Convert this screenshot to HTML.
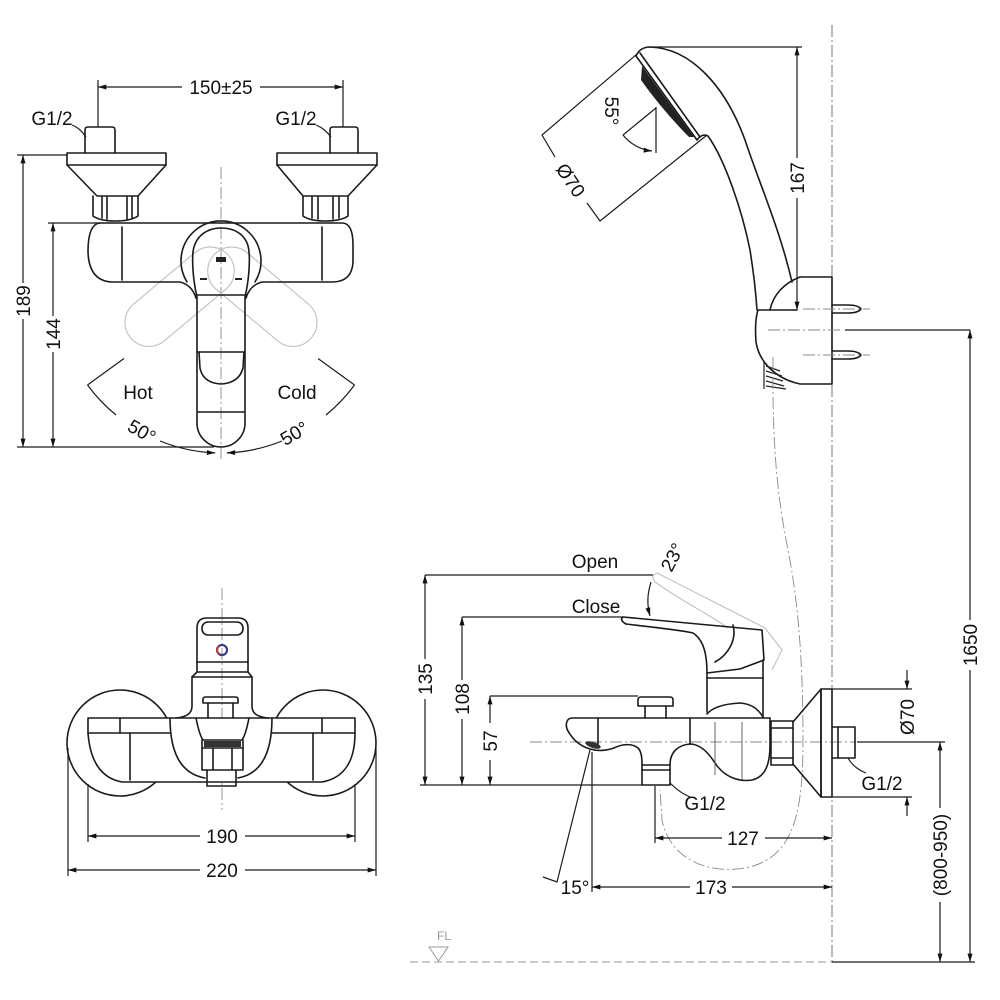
<!DOCTYPE html>
<html><head><meta charset="utf-8">
<style>
html,body{margin:0;padding:0;background:#fff;}
svg{display:block;}
text{font-family:"Liberation Sans",Arial,sans-serif;fill:#111;font-size:19px;}
.o{stroke:#1a1a1a;stroke-width:1.6;fill:none;stroke-linejoin:round;stroke-linecap:round;}
.d{stroke:#1a1a1a;stroke-width:1.2;fill:none;}
.c{stroke:#8a8a8a;stroke-width:0.9;fill:none;stroke-dasharray:12 3 2 3;}
.g{stroke:#c4c4c4;stroke-width:1.2;fill:none;}
.t{stroke:#555;stroke-width:0.9;fill:none;}
</style></head><body>
<svg width="1000" height="1000" viewBox="0 0 1000 1000" xmlns="http://www.w3.org/2000/svg">
<defs>
<marker id="ar" viewBox="0 0 10 6" refX="10" refY="3" markerWidth="9" markerHeight="5" orient="auto-start-reverse" markerUnits="userSpaceOnUse"><path d="M0,0 L10,3 L0,6 Z" fill="#111"/></marker>
</defs>
<rect width="1000" height="1000" fill="#fff"/>

<!-- ================= VIEW 1 : top-left front ================= -->
<g class="c">
<line x1="221" y1="167" x2="221" y2="462"/>
</g>
<g class="g">
<rect x="-24" y="-10" width="48" height="128" rx="24" transform="translate(221,262) rotate(50)"/>
<rect x="-24" y="-10" width="48" height="128" rx="24" transform="translate(221,262) rotate(-50)"/>
</g>
<g class="o">
<path d="M85,153 L85,130 Q85,127 88,127 L112,127 Q115,127 115,130 L115,153"/>
<path d="M67,153 L166,153 L166,165 L138,196 L97,196 L67,165 Z"/>
<line x1="67" y1="165" x2="166" y2="165"/>
<path d="M93,196 L93,216 Q100,221 115,221 Q131,221 138,216 L138,196"/>
<line x1="102" y1="197" x2="102" y2="218"/><line x1="107" y1="197" x2="107" y2="219"/>
<line x1="127" y1="197" x2="127" y2="219"/><line x1="132" y1="197" x2="132" y2="218"/>
<path d="M330,153 L330,130 Q330,127 333,127 L355,127 Q358,127 358,130 L358,153"/>
<path d="M277,153 L377,153 L377,165 L348,196 L303,196 L277,165 Z"/>
<line x1="277" y1="165" x2="377" y2="165"/>
<path d="M303,196 L303,216 Q310,221 325,221 Q341,221 348,216 L348,196"/>
<line x1="312" y1="197" x2="312" y2="218"/><line x1="318" y1="197" x2="318" y2="219"/>
<line x1="333" y1="197" x2="333" y2="219"/><line x1="339" y1="197" x2="339" y2="218"/>
<path d="M100,223 L343,223 Q353,224 353,245 L353,262 Q352,282 332,282 L262,282 Q250,285 246,298"/>
<path d="M196,298 Q192,285 180,282 L112,282 Q89,281 88,252 Q88,224 100,223"/>
<line x1="122" y1="227" x2="122" y2="280"/>
<line x1="322" y1="227" x2="322" y2="280"/>
<path d="M187,282 A40,40 0 1 1 255,282"/>
<path d="M197,297 C193,280 192,262 193,252 C195,236 207,228 221,228 C236,228 248,236 249,252 C250,262 249,280 245,297 L245,423 A24,24 0 0 1 197,423 Z"/>
<line x1="197" y1="295" x2="245" y2="295"/>
<line x1="198" y1="352" x2="244" y2="352"/>
<line x1="198" y1="412" x2="244" y2="412"/>
<path d="M199,352 L200,368 Q203,383 221,384 Q239,383 243,368 L244,352"/>
</g>
<rect x="216" y="257" width="10" height="5" fill="#222"/>
<line x1="200" y1="279" x2="207" y2="279" stroke="#222" stroke-width="2"/>
<line x1="235" y1="279" x2="242" y2="279" stroke="#222" stroke-width="2"/>
<g class="d">
<line x1="98" y1="87" x2="182" y2="87" marker-start="url(#ar)"/>
<line x1="260" y1="87" x2="343" y2="87" marker-end="url(#ar)"/>
<line x1="98" y1="80" x2="98" y2="127"/>
<line x1="343" y1="80" x2="343" y2="127"/>
<path d="M72,125 Q80,128 86,137"/>
<path d="M316,125 Q324,128 331,137"/>
<line x1="17" y1="155" x2="67" y2="155"/>
<line x1="23" y1="155" x2="23" y2="283" marker-start="url(#ar)"/>
<line x1="23" y1="319" x2="23" y2="447" marker-end="url(#ar)"/>
<line x1="48" y1="223" x2="100" y2="223"/>
<line x1="53" y1="223" x2="53" y2="316" marker-start="url(#ar)"/>
<line x1="53" y1="352" x2="53" y2="447" marker-end="url(#ar)"/>
<line x1="17" y1="447" x2="214" y2="447"/>
<line x1="87.5" y1="385" x2="124" y2="358.5"/>
<line x1="354.5" y1="385" x2="318" y2="358.5"/>
<path d="M87.5,385 A165,165 0 0 0 116,415"/>
<path d="M160,441 A165,165 0 0 0 215.2,452.9" marker-end="url(#ar)"/>
<path d="M354.5,385 A165,165 0 0 1 326,415"/>
<path d="M282,441 A165,165 0 0 1 226.8,452.9" marker-end="url(#ar)"/>
</g>
<text x="221" y="94" text-anchor="middle">150±25</text>
<text x="52" y="125" text-anchor="middle">G1/2</text>
<text x="296" y="125" text-anchor="middle">G1/2</text>
<text transform="translate(23,301) rotate(-90)" y="7" text-anchor="middle">189</text>
<text transform="translate(53,334) rotate(-90)" y="7" text-anchor="middle">144</text>
<text x="138" y="399" text-anchor="middle">Hot</text>
<text x="297" y="399" text-anchor="middle">Cold</text>
<text transform="translate(142,431) rotate(30)" y="7" text-anchor="middle">50°</text>
<text transform="translate(294,433) rotate(-30)" y="7" text-anchor="middle">50°</text>

<!-- ================= VIEW 2 : bottom-left front ================= -->
<g class="c"><line x1="222" y1="588" x2="222" y2="810"/></g>
<g class="o">
<circle cx="120" cy="743" r="53"/>
<circle cx="323" cy="743" r="53"/>
<path d="M88,718 L355,718 L355,733 C355,760 345,778 322,782 L122,782 C100,778 90,760 88,733 Z" fill="#fff"/>
<line x1="88" y1="733" x2="170" y2="733"/>
<line x1="272" y1="733" x2="355" y2="733"/>
<line x1="120" y1="718" x2="120" y2="733"/>
<line x1="130" y1="733" x2="130" y2="780"/>
<line x1="313" y1="733" x2="313" y2="780"/>
<line x1="322" y1="718" x2="322" y2="733"/>
<path d="M170,718 C170,755 182,774 205,778"/>
<path d="M272,718 C272,755 260,774 238,778"/>
<path d="M197,672 L197,628 Q197,618 207,618 L238,618 Q248,618 248,628 L248,672"/>
<rect x="202" y="622" width="41" height="13" rx="6"/>
<line x1="197" y1="662" x2="248" y2="662"/>
<path d="M197,672 L248,672 L252,677 L192,677 Z"/>
<path d="M192,677 L192,706 C192,714 186,717 176,718"/>
<path d="M252,677 L252,706 C252,714 258,717 268,718"/>
<path d="M203,703 L203,699 Q203,697 206,697 L235,697 Q238,697 238,699 L238,703 Z"/>
<path d="M208,703 L208,718 M233,703 L233,718"/>
<path d="M196,718 C198,728 200,736 203,740 L242,740 C245,736 247,728 249,718"/>
<path d="M202,740 L202,748 L243,748 L243,740"/>
<path d="M202,748 L202,770 L243,770 L243,748"/>
<line x1="213" y1="748" x2="213" y2="770"/><line x1="232" y1="748" x2="232" y2="770"/>
<path d="M207,770 L207,786 L236,786 L236,770"/>
</g>
<rect x="204" y="741" width="37" height="6" fill="#333"/>
<circle cx="222" cy="650" r="5" fill="none" stroke="#3b3f8a" stroke-width="2.2"/>
<path d="M219,646 A5,5 0 0 0 219,654" fill="none" stroke="#b4473c" stroke-width="2"/>
<g class="d">
<line x1="88" y1="784" x2="88" y2="842"/>
<line x1="355" y1="784" x2="355" y2="842"/>
<line x1="68" y1="748" x2="68" y2="876"/>
<line x1="376" y1="748" x2="376" y2="876"/>
<line x1="88" y1="836" x2="200" y2="836" marker-start="url(#ar)"/>
<line x1="245" y1="836" x2="355" y2="836" marker-end="url(#ar)"/>
<line x1="68" y1="870" x2="200" y2="870" marker-start="url(#ar)"/>
<line x1="245" y1="870" x2="376" y2="870" marker-end="url(#ar)"/>
</g>
<text x="222" y="843" text-anchor="middle">190</text>
<text x="222" y="877" text-anchor="middle">220</text>

<!-- ================= VIEW 3 : hand shower ================= -->
<line x1="832" y1="25" x2="832" y2="962" stroke="#777" stroke-width="1" stroke-dasharray="12 3 2 3"/>
<g class="o">
<path d="M636,56 Q640,47 650,47 C690,48 725,85 745,140 C760,185 780,230 792,282"/>
<path d="M697,140 Q702,133 708,136 C725,160 742,210 750,250 C754,275 756,295 757,310"/>
<line x1="636" y1="56" x2="697" y2="140"/>
<line x1="640" y1="53" x2="700" y2="137"/>
<path d="M800,277 L832,277 L832,384 L800,384 C776,379 759,362 756,342 C755,328 756,316 758,310 L797,310"/>
<path d="M800,277 C784,283 773,295 770,310"/>
<path d="M832,305 L848,305 Q858,305 861,309 Q858,313 848,313 L832,313"/>
<path d="M832,351 L848,351 Q858,351 861,355 Q858,359 848,359 L832,359"/>
</g>
<path d="M642,66 L694,137 L689,137 C674,122 655,100 641,80 Z" fill="#222"/>
<g stroke="#222" stroke-width="1.2">
<line x1="764" y1="362" x2="764" y2="389"/>
<line x1="766" y1="366" x2="780" y2="371"/>
<line x1="766" y1="371" x2="782" y2="376"/>
<line x1="766" y1="376" x2="783" y2="381"/>
<line x1="766" y1="381" x2="784" y2="386"/>
<line x1="766" y1="386" x2="786" y2="389"/>
</g>
<g class="c">
<line x1="803" y1="309" x2="870" y2="309"/>
<line x1="803" y1="355" x2="870" y2="355"/>
<line x1="768" y1="330" x2="842" y2="330"/>
<path d="M773,357 C772,450 778,500 788,550 C798,600 803,660 803,740 C803,810 795,855 750,867 C710,876 670,860 662,820 L660,790"/>
</g>
<g class="d">
<line x1="650" y1="47" x2="802" y2="47"/>
<line x1="797" y1="47" x2="797" y2="158" marker-start="url(#ar)"/>
<line x1="797" y1="198" x2="797" y2="310" marker-end="url(#ar)"/>
<path d="M637,54 L542,135 L555,157"/>
<path d="M587,203 L600,221 L707,135"/>
<line x1="656" y1="107" x2="656" y2="153"/>
<line x1="656" y1="108" x2="623" y2="135"/>
<path d="M623,135 A43,43 0 0 0 652,151" marker-end="url(#ar)"/>
<line x1="845" y1="330" x2="970" y2="330"/>
<line x1="970" y1="330" x2="970" y2="620" marker-start="url(#ar)"/>
<line x1="970" y1="670" x2="970" y2="962" marker-end="url(#ar)"/>
</g>
<text transform="translate(797,178) rotate(-90)" y="7" text-anchor="middle">167</text>
<text transform="translate(571,180) rotate(56)" y="7" text-anchor="middle">Ø70</text>
<text transform="translate(612,111) rotate(90)" y="7" text-anchor="middle">55°</text>
<text transform="translate(970,645) rotate(-90)" y="7" text-anchor="middle">1650</text>

<!-- ================= VIEW 4 : side ================= -->
<g class="c">
<line x1="530" y1="742" x2="856" y2="742"/>
</g>
<g class="g">
<path d="M655,582 Q650,576 657,573 L765,628 L782,650 L772,670"/>
<path d="M655,582 C680,600 710,615 728,628"/>
</g>
<g class="o">
<path d="M626,624 Q619,620 623,617 L762,630 L764,660 L740,669 L707,673"/>
<path d="M626,624 C650,627 680,630 693,633 C704,640 707,655 707,673"/>
<path d="M715,662 C728,655 737,640 733,625"/>
<line x1="707" y1="673" x2="707" y2="712"/>
<line x1="763" y1="660" x2="763" y2="718"/>
<line x1="707" y1="678" x2="763" y2="678"/>
<path d="M707,714 C712,708 722,704 740,703 C752,704 758,709 763,717"/>
<path d="M770,718 L572,718 C566,718 565,726 568,731 C573,740 580,746 590,749 C600,752 608,750 614,748 C622,744 632,743 638,748 C642,752 642,760 642,765"/>
<path d="M670,765 C670,752 678,745 690,744 C700,744 708,752 715,763 C725,778 740,782 752,780 C765,777 770,765 770,745 L770,718"/>
<line x1="598" y1="718" x2="598" y2="744"/>
<line x1="690" y1="718" x2="690" y2="744"/>
<path d="M642,765 L642,785 L670,785 L670,765 Z"/>
<line x1="642" y1="770" x2="670" y2="770"/>
<path d="M638,706 L638,700 Q638,697 641,697 L670,697 Q673,697 673,700 L673,706 Z"/>
<path d="M645,706 L645,718 M666,706 L666,718"/>
<rect x="771" y="721" width="22" height="44"/>
<line x1="771" y1="728" x2="793" y2="728"/><line x1="771" y1="758" x2="793" y2="758"/>
<path d="M793,722 L821,689 L821,797 L793,764"/>
<rect x="821" y="689" width="11" height="108"/>
<path d="M832,727 L855,727 L855,758 L832,758"/>
<line x1="838" y1="727" x2="838" y2="758"/>
</g>
<g class="t">
<line x1="715" y1="722" x2="715" y2="775"/>
<line x1="742" y1="722" x2="742" y2="780"/>
</g>
<ellipse cx="593" cy="745" rx="8" ry="3" transform="rotate(18 593 745)" fill="#333"/>
<g class="d">
<line x1="425" y1="575" x2="653" y2="575"/>
<line x1="425" y1="575" x2="425" y2="659" marker-start="url(#ar)"/>
<line x1="425" y1="699" x2="425" y2="785" marker-end="url(#ar)"/>
<line x1="462" y1="617" x2="623" y2="617"/>
<line x1="462" y1="617" x2="462" y2="680" marker-start="url(#ar)"/>
<line x1="462" y1="719" x2="462" y2="785" marker-end="url(#ar)"/>
<line x1="490" y1="696" x2="638" y2="696"/>
<line x1="490" y1="696" x2="490" y2="723" marker-start="url(#ar)"/>
<line x1="490" y1="760" x2="490" y2="785" marker-end="url(#ar)"/>
<line x1="420" y1="785" x2="642" y2="785"/>
<path d="M651,582 C647,595 647,605 650,616" marker-end="url(#ar)"/>
<path d="M670,783 Q680,793 690,797"/>
<line x1="655" y1="786" x2="655" y2="843"/>
<line x1="655" y1="838" x2="722" y2="838" marker-start="url(#ar)"/>
<line x1="765" y1="838" x2="832" y2="838" marker-end="url(#ar)"/>
<line x1="592" y1="752" x2="592" y2="892"/>
<line x1="592" y1="887" x2="690" y2="887" marker-start="url(#ar)"/>
<line x1="732" y1="887" x2="832" y2="887" marker-end="url(#ar)"/>
<path d="M590,750 L557,882 L543,877"/>
<line x1="832" y1="689" x2="912" y2="689"/>
<line x1="832" y1="797" x2="912" y2="797"/>
<line x1="907" y1="670" x2="907" y2="689" marker-end="url(#ar)"/>
<line x1="907" y1="816" x2="907" y2="797" marker-end="url(#ar)"/>
<path d="M848,758 C852,765 858,770 866,773"/>
<line x1="857" y1="742" x2="945" y2="742"/>
<line x1="940" y1="742" x2="940" y2="808" marker-start="url(#ar)"/>
<line x1="940" y1="902" x2="940" y2="962" marker-end="url(#ar)"/>
<line x1="832" y1="962" x2="975" y2="962"/>
</g>
<line x1="410" y1="962" x2="832" y2="962" stroke="#999" stroke-width="1" stroke-dasharray="8 4"/>
<path d="M429,947 L448,947 L438.5,961 Z" fill="none" stroke="#999" stroke-width="1"/>
<text x="444" y="940" text-anchor="middle" style="font-size:12px;fill:#999">FL</text>
<text x="595" y="568" text-anchor="middle">Open</text>
<text x="596" y="613" text-anchor="middle">Close</text>
<text transform="translate(672,557) rotate(-62)" y="7" text-anchor="middle">23°</text>
<text transform="translate(425,679) rotate(-90)" y="7" text-anchor="middle">135</text>
<text transform="translate(462,699) rotate(-90)" y="7" text-anchor="middle">108</text>
<text transform="translate(490,741) rotate(-90)" y="7" text-anchor="middle">57</text>
<text x="705" y="810" text-anchor="middle">G1/2</text>
<text x="743" y="845" text-anchor="middle">127</text>
<text x="711" y="894" text-anchor="middle">173</text>
<text x="575" y="894" text-anchor="middle">15°</text>
<text x="882" y="790" text-anchor="middle">G1/2</text>
<text transform="translate(907,717) rotate(-90)" y="7" text-anchor="middle">Ø70</text>
<text transform="translate(940,855) rotate(-90)" y="7" text-anchor="middle">(800-950)</text>
</svg>
</body></html>
